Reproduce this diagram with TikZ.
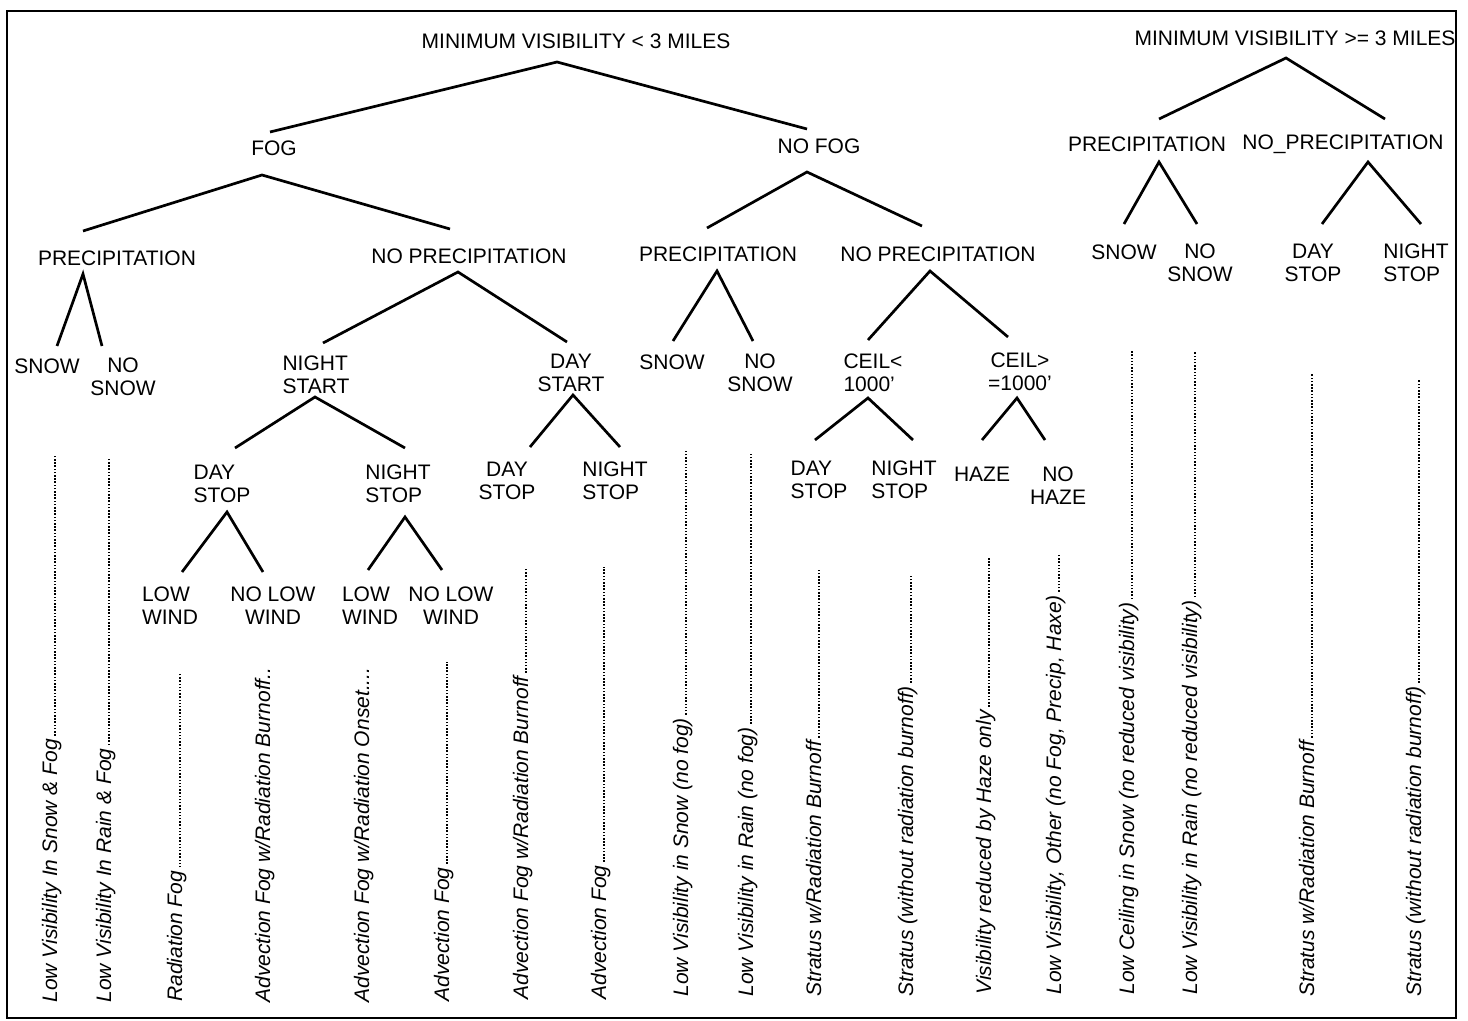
\documentclass[tikz,border=0pt]{standalone}
\usepackage{fontspec}
\setmainfont{Liberation Sans}
\newcommand\leafn[5]{%
  \node[leaf] (#1) at (#2,#3) {#5};
  \coordinate (#1t) at (#2,#4);
  \draw[leader] ([shift={(-0.8pt,1.5pt)}]#1.base east) -- ([xshift=-0.8pt]#1t);}
\newcommand\leafs[4]{%
  \node[leaf] (#1) at (#2,#3) {#4};}
\begin{document}
\begin{tikzpicture}[x=0.5pt,y=-0.5pt,
  lbl/.style={font=\fontsize{10.5}{11.5}\selectfont, align=center, inner sep=0pt},
  lblL/.style={lbl, align=left},
  leaf/.style={font=\fontsize{10.5}{11.5}\selectfont\itshape, rotate=90, anchor=base west, inner sep=0pt},
  br/.style={line width=1.35pt, line join=miter},
  leader/.style={line width=1.05pt, dash pattern=on 0.75pt off 0.85pt}]
\useasboundingbox (0,0) rectangle (1468,1021);
\draw[line width=1.4pt] (7,11) rectangle (1456,1018);

% ---------- labels ----------
\node[lbl] (r1) at (576,41) {MINIMUM VISIBILITY < 3 MILES};
\node[lbl] (r2) at (1295,38) {MINIMUM VISIBILITY >= 3 MILES};
\node[lbl] (fog) at (274,148) {FOG};
\node[lbl] (nofog) at (819,146) {NO FOG};
\node[lbl] (p1) at (117,258) {PRECIPITATION};
\node[lbl] (np1) at (469,256) {NO PRECIPITATION};
\node[lbl] (p2) at (718,254) {PRECIPITATION};
\node[lbl] (np2) at (938,254) {NO PRECIPITATION};
\node[lbl] (p3) at (1147,144) {PRECIPITATION};
\node[lbl] (np3) at (1343,144) {NO\_PRECIPITATION};

\node[lbl] (snow1) at (47,366) {SNOW};
\node[lbl] (nosnow1) at (123,377) {NO\\SNOW};
\node[lblL] (nstart) at (316,375) {NIGHT\\START};
\node[lbl] (dstart) at (571,373) {DAY\\START};
\node[lblL] (dstop1) at (222,484) {DAY\\STOP};
\node[lblL] (nstop1) at (398,484) {NIGHT\\STOP};
\node[lblL] (lw1) at (170,606) {LOW\\WIND};
\node[lbl] (nlw1) at (273,606) {NO LOW\\WIND};
\node[lblL] (lw2) at (370,606) {LOW\\WIND};
\node[lbl] (nlw2) at (451,606) {NO LOW\\WIND};
\node[lbl] (dstop2) at (507,481) {DAY\\STOP};
\node[lblL] (nstop2) at (615,481) {NIGHT\\STOP};

\node[lbl] (snow2) at (672,362) {SNOW};
\node[lbl] (nosnow2) at (760,373) {NO\\SNOW};
\node[lblL] (ceil1) at (873,373) {CEIL<\\1000'};
\node[lbl] (ceil2) at (1020,372) {CEIL>\\=1000'};
\node[lblL] (dstop3) at (819,480) {DAY\\STOP};
\node[lblL] (nstop3) at (904,480) {NIGHT\\STOP};
\node[lbl] (haze) at (982,474) {HAZE};
\node[lbl] (nohaze) at (1058,486) {NO\\HAZE};

\node[lbl] (snow3) at (1124,252) {SNOW};
\node[lbl] (nosnow3) at (1200,263) {NO\\SNOW};
\node[lbl] (dstop4) at (1313,263) {DAY\\STOP};
\node[lblL] (nstop4) at (1416,263) {NIGHT\\STOP};

% ---------- connector points ----------
\coordinate (r1-a) at (557,62);
\coordinate (fog-t) at (270,132);   \coordinate (nofog-t) at (807,129);
\coordinate (fog-a) at (262,175);
\coordinate (p1-t) at (83,231);     \coordinate (np1-t) at (450,229);
\coordinate (nofog-a) at (807,172);
\coordinate (p2-t) at (707,228);    \coordinate (np2-t) at (922,226);
\coordinate (r2-a) at (1286,58);
\coordinate (p3-t) at (1159,119);   \coordinate (np3-t) at (1385,119);
\coordinate (p1-a) at (83,274);
\coordinate (snow1-t) at (57,346);  \coordinate (nosnow1-t) at (102,346);
\coordinate (np1-a) at (458,272);
\coordinate (nstart-t) at (323,343); \coordinate (dstart-t) at (567,342);
\coordinate (p2-a) at (717,271);
\coordinate (snow2-t) at (673,341); \coordinate (nosnow2-t) at (753,341);
\coordinate (np2-a) at (930,271);
\coordinate (ceil1-t) at (868,340); \coordinate (ceil2-t) at (1008,337);
\coordinate (p3-a) at (1159,162);
\coordinate (snow3-t) at (1124,224); \coordinate (nosnow3-t) at (1197,224);
\coordinate (np3-a) at (1368,162);
\coordinate (dstop4-t) at (1322,224); \coordinate (nstop4-t) at (1421,224);
\coordinate (nstart-a) at (315,397);
\coordinate (dstop1-t) at (235,448); \coordinate (nstop1-t) at (405,448);
\coordinate (dstart-a) at (573,395);
\coordinate (dstop2-t) at (530,447); \coordinate (nstop2-t) at (620,447);
\coordinate (ceil1-a) at (868,398);
\coordinate (dstop3-t) at (815,440); \coordinate (nstop3-t) at (913,440);
\coordinate (ceil2-a) at (1017,398);
\coordinate (haze-t) at (982,440);  \coordinate (nohaze-t) at (1045,440);
\coordinate (dstop1-a) at (227,512);
\coordinate (lw1-t) at (182,572);   \coordinate (nlw1-t) at (263,572);
\coordinate (nstop1-a) at (405,517);
\coordinate (lw2-t) at (368,570);   \coordinate (nlw2-t) at (442,570);

% ---------- connectors ----------
\draw[br] (fog-t) -- (r1-a) -- (nofog-t);
\draw[br] (p1-t) -- (fog-a) -- (np1-t);
\draw[br] (p2-t) -- (nofog-a) -- (np2-t);
\draw[br] (p3-t) -- (r2-a) -- (np3-t);
\draw[br] (snow1-t) -- (p1-a) -- (nosnow1-t);
\draw[br] (nstart-t) -- (np1-a) -- (dstart-t);
\draw[br] (snow2-t) -- (p2-a) -- (nosnow2-t);
\draw[br] (ceil1-t) -- (np2-a) -- (ceil2-t);
\draw[br] (snow3-t) -- (p3-a) -- (nosnow3-t);
\draw[br] (dstop4-t) -- (np3-a) -- (nstop4-t);
\draw[br] (dstop1-t) -- (nstart-a) -- (nstop1-t);
\draw[br] (dstop2-t) -- (dstart-a) -- (nstop2-t);
\draw[br] (dstop3-t) -- (ceil1-a) -- (nstop3-t);
\draw[br] (haze-t) -- (ceil2-a) -- (nohaze-t);
\draw[br] (lw1-t) -- (dstop1-a) -- (nlw1-t);
\draw[br] (lw2-t) -- (nstop1-a) -- (nlw2-t);

% ---------- leaves ----------
\leafn{l1}{57}{1003}{455}{Low Visibility In Snow \& Fog}
\leafn{l2}{111}{1003}{458}{Low Visibility In Rain \& Fog}
\leafn{l3}{182}{1002}{673}{Radiation Fog}
\leafs{l4}{270}{1003}{Advection Fog w/Radiation Burnoff..}
\leafs{l5}{369}{1003}{Advection Fog w/Radiation Onset....}
\leafn{l6}{449}{1002}{662}{Advection Fog}
\leafn{l7}{528}{1000}{568}{Advection Fog w/Radiation Burnoff}
\leafn{l8}{606}{1000}{567}{Advection Fog}
\leafn{l9}{688}{997}{450}{Low Visibility in Snow (no fog)}
\leafn{l10}{753}{997}{453}{Low Visibility in Rain (no fog)}
\leafn{l11}{821}{997}{568}{Stratus w/Radiation Burnoff}
\leafn{l12}{913}{997}{575}{Stratus (without radiation burnoff)}
\leafn{l13}{991}{995}{557}{Visibility reduced by Haze only}
\leafn{l14}{1061}{995}{555}{Low Visibility, Other (no Fog, Precip, Haxe)}
\leafn{l15}{1134}{995}{350}{Low Ceiling in Snow (no reduced visibility)}
\leafn{l16}{1197}{995}{352}{Low Visibility in Rain (no reduced visibility)}
\leafn{l17}{1314}{997}{373}{Stratus w/Radiation Burnoff}
\leafn{l18}{1421}{997}{380}{Stratus (without radiation burnoff)}
\end{tikzpicture}
\end{document}
